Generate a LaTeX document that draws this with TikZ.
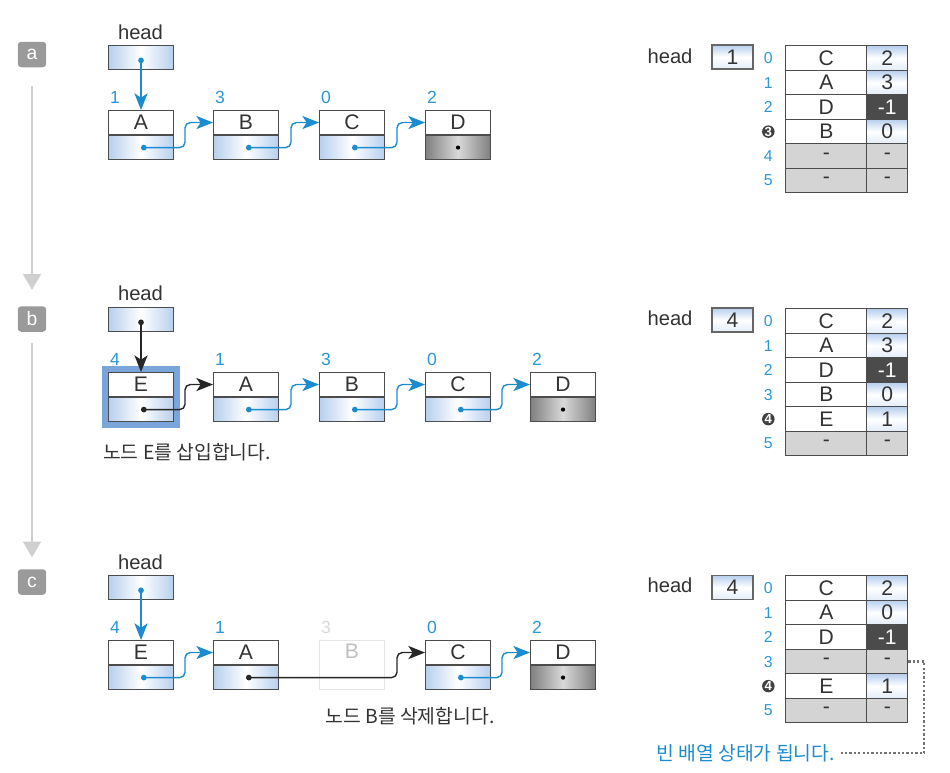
\documentclass[tikz,border=0pt]{standalone}
\usepackage{fontspec}
\setmainfont{Liberation Sans}
\newfontfamily\krfont{Noto Sans CJK KR}
\usetikzlibrary{arrows.meta, positioning, matrix, fit, backgrounds}

\definecolor{cellblue}{HTML}{B7CFEE}
\definecolor{linkblue}{HTML}{1C8CD0}
\definecolor{idxblue}{HTML}{2A97D8}
\definecolor{hlblue}{HTML}{79A5DA}
\definecolor{taggray}{HTML}{9A9A9A}
\definecolor{sidegray}{HTML}{CFCFCF}
\definecolor{nilgray}{HTML}{D4D4D4}
\definecolor{endgray}{HTML}{4B4B4B}
\definecolor{inkgray}{HTML}{333333}

% list node: name, x, y, letter, index, pointer style
\newcommand{\lnode}[6]{%
  \node[topcell] (#1) at (#2,#3) {#4};
  \node[#6, below=0pt of #1] (#1p) {};
  \node[idxnum] (#1n) at (#1.north west) {#5};
}

\begin{document}
\begin{tikzpicture}[x=0.02cm, y=-0.02cm, text=inkgray,
    font=\fontsize{12}{14}\selectfont,
    topcell/.style={draw=black!70, line width=0.6pt, fill=white, anchor=north west,
                    minimum width=1.3cm, minimum height=0.48cm, inner sep=0pt},
    ptrcell/.style={draw=black!70, line width=0.6pt, left color=cellblue, right color=cellblue,
                    middle color=white, minimum width=1.3cm, minimum height=0.48cm, inner sep=0pt},
    endcell/.style={ptrcell, left color=black!50, right color=black!50, middle color=black!15},
    hbox/.style={ptrcell, anchor=north west},
    hcell/.style={draw=black!60, line width=0.6pt, top color=cellblue, bottom color=cellblue!40,
                  middle color=white, minimum width=0.82cm, minimum height=0.48cm, inner sep=0pt},
    idxnum/.style={anchor=south west, inner sep=1pt, yshift=2.5pt, text=idxblue,
                   font=\fontsize{10}{11}\selectfont},
    lbl/.style={font=\fontsize{11.5}{13}\selectfont},
    kr/.style={font=\krfont\fontsize{11}{13}\selectfont},
    tagbox/.style={fill=taggray, rounded corners=2pt, text=white, minimum width=0.57cm,
                   minimum height=0.51cm, inner sep=0pt, font=\fontsize{11}{12}\selectfont},
    side/.style={draw=sidegray, line width=1.6pt, arrows={-Triangle[width=10pt, length=9pt]}},
    blink/.style={draw=linkblue, line width=0.8pt, rounded corners=3pt,
                  arrows={Circle[length=3.2pt]-Stealth[length=9.5pt, width=7.5pt, inset=2.5pt]}},
    klink/.style={blink, draw=black!85},
    jog/.style={to path={-| ([xshift=-0.56cm]\tikztotarget) -- (\tikztotarget)}},
    ghost/.style={draw=black!10, anchor=north west, minimum width=1.3cm, inner sep=0pt,
                  text=black!25, text height=0.37cm, text depth=0.61cm},
    tbl/.style={matrix of nodes, anchor=north west, inner sep=0pt, row sep=-0.6pt, column sep=-0.6pt,
                nodes={anchor=center, inner sep=0pt, minimum height=0.49cm, draw=black!70,
                       line width=0.6pt, fill=white},
                column 1/.style={nodes={draw=none, fill=none, minimum width=0.72cm, text=idxblue,
                                        font=\fontsize{9}{10}\selectfont}},
                column 2/.style={nodes={minimum width=1.62cm}},
                column 3/.style={nodes={minimum width=0.82cm}}},
    lk/.style={top color=cellblue, bottom color=cellblue!40, middle color=white},
    lkend/.style={fill=endgray, text=white},
    nil/.style={fill=nilgray},
    cnum/.style={circle, fill=black!75, text=white, minimum width=0pt, minimum height=0pt,
                 minimum size=0.25cm, inner sep=0pt, font=\bfseries\fontsize{7.5}{7.5}\selectfont},
    dotline/.style={draw=black!55, line width=1.3pt, dash pattern=on 1.3pt off 1.2pt}
  ]
    \useasboundingbox (0,0) rectangle (950,772);

    % step tags
    \node[tagbox] (tagA) at (32,54.5) {a};
    \node[tagbox] (tagB) at (32,319) {b};
    \node[tagbox] (tagC) at (32,582) {c};
    \draw[side, shorten <=0.36cm, shorten >=0.32cm] (tagA) -- (tagB);
    \draw[side, shorten <=0.22cm, shorten >=0.23cm] (tagB) -- (tagC);

    % (a) list
    \node[lbl] (aHl) at (140.5,32) {head};
    \node[hbox] (aH) at (108,45) {};
    \lnode{aA}{108}{110}{A}{1}{ptrcell}
    \lnode{aB}{213}{110}{B}{3}{ptrcell}
    \lnode{aC}{319}{110}{C}{0}{ptrcell}
    \lnode{aD}{425}{110}{D}{2}{endcell}
    \fill[black] (aDp.center) circle[radius=1.2pt];
    \draw[blink] (aH.center) -- (aA.north);
    \draw[blink] (aAp.center) to[jog] (aB.west);
    \draw[blink] (aBp.center) to[jog] (aC.west);
    \draw[blink] (aCp.center) to[jog] (aD.west);

    % (b) list
    \node[lbl] (bHl) at (140.5,293) {head};
    \node[hbox] (bH) at (108,307) {};
    \lnode{bE}{108}{372}{E}{4}{ptrcell}
    \lnode{bA}{213}{372}{A}{1}{ptrcell}
    \lnode{bB}{319}{372}{B}{3}{ptrcell}
    \lnode{bC}{425}{372}{C}{0}{ptrcell}
    \lnode{bD}{530}{372}{D}{2}{endcell}
    \fill[black] (bDp.center) circle[radius=1.2pt];
    \begin{scope}[on background layer]
      \node[fit=(bE)(bEp), fill=hlblue, inner sep=0.12cm] (bEhl) {};
    \end{scope}
    \draw[klink] (bH.center) -- (bE.north);
    \draw[klink] (bEp.center) to[jog] (bA.west);
    \draw[blink] (bAp.center) to[jog] (bB.west);
    \draw[blink] (bBp.center) to[jog] (bC.west);
    \draw[blink] (bCp.center) to[jog] (bD.west);
    \node[kr, anchor=west] (capB) at (97,452) {노드 E를 삽입합니다.};

    % (c) list
    \node[lbl] (cHl) at (140.5,562) {head};
    \node[hbox] (cH) at (108,575) {};
    \lnode{cE}{108}{640}{E}{4}{ptrcell}
    \lnode{cA}{213}{640}{A}{1}{ptrcell}
    \node[ghost] (cB) at (319,640) {B};
    \node[idxnum, text=black!15] (cBn) at (cB.north west) {3};
    \lnode{cC}{425}{640}{C}{0}{ptrcell}
    \lnode{cD}{530}{640}{D}{2}{endcell}
    \fill[black] (cDp.center) circle[radius=1.2pt];
    \draw[blink] (cH.center) -- (cE.north);
    \draw[blink] (cEp.center) to[jog] (cA.west);
    \draw[klink] (cAp.center) to[jog] (cC.west);
    \draw[blink] (cCp.center) to[jog] (cD.west);
    \node[kr] (capC) at (410,716) {노드 B를 삭제합니다.};

    % (a) array
    \node[lbl] (tabAhl) at (670,56) {head};
    \node[hcell] (tabAh) at (732.5,57) {1};
    \matrix (tabA) [tbl] at (750,45) {
      0 & C & |[lk]| 2 \\
      1 & A & |[lk]| 3 \\
      2 & D & |[lkend]| -1 \\
      |[cnum]| 3 & B & |[lk]| 0 \\
      4 & |[nil]| - & |[nil]| - \\
      5 & |[nil]| - & |[nil]| - \\
    };

    % (b) array
    \node[lbl] (tabBhl) at (670,318) {head};
    \node[hcell] (tabBh) at (732.5,320) {4};
    \matrix (tabB) [tbl] at (750,308) {
      0 & C & |[lk]| 2 \\
      1 & A & |[lk]| 3 \\
      2 & D & |[lkend]| -1 \\
      3 & B & |[lk]| 0 \\
      |[cnum]| 4 & E & |[lk]| 1 \\
      5 & |[nil]| - & |[nil]| - \\
    };

    % (c) array
    \node[lbl] (tabChl) at (670,585) {head};
    \node[hcell] (tabCh) at (732.5,587.5) {4};
    \matrix (tabC) [tbl] at (750,575) {
      0 & C & |[lk]| 2 \\
      1 & A & |[lk]| 0 \\
      2 & D & |[lkend]| -1 \\
      3 & |[nil]| - & |[nil]| - \\
      |[cnum]| 4 & E & |[lk]| 1 \\
      5 & |[nil]| - & |[nil]| - \\
    };

    % empty slot note
    \node[kr, text=linkblue, anchor=east] (note) at (841,753) {빈 배열 상태가 됩니다.};
    \draw[dotline] (tabC-4-3.east) -- ++(0.32cm,0) |- (note.east);
\end{tikzpicture}
\end{document}
